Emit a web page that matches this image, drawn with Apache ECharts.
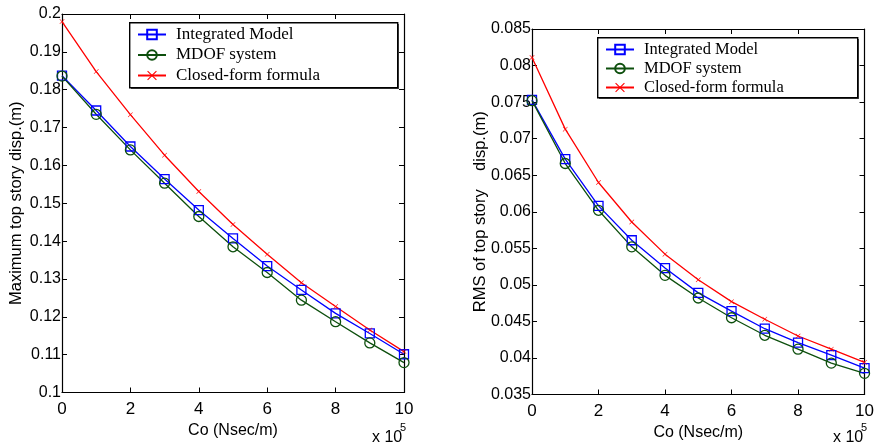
<!DOCTYPE html>
<html><head><meta charset="utf-8">
<script src="https://cdn.jsdelivr.net/npm/echarts@6/dist/echarts.min.js"></script>
<style>html,body{margin:0;padding:0;background:#fff}#c{width:877px;height:447px}</style>
</head><body><div id="c"></div>
<script>
var co = [0,1,2,3,4,5,6,7,8,9,10];
var seriesNames = ['Integrated Model','MDOF system','Closed-form formula'];
// Left: maximum top story displacement (m)
var maxIntegrated = [0.1837,0.1745,0.1650,0.1564,0.1482,0.1407,0.1334,0.1271,0.1209,0.1156,0.1101];
var maxMDOF       = [0.1836,0.1735,0.1641,0.1553,0.1465,0.1385,0.1317,0.1244,0.1187,0.1131,0.1079];
var maxClosed     = [0.1980,0.1848,0.1734,0.1627,0.1531,0.1444,0.1365,0.1290,0.1227,0.1165,0.1108];
// Right: RMS of top story displacement (m)
var rmsIntegrated = [0.0753,0.0672,0.0608,0.0561,0.0523,0.0489,0.0464,0.0440,0.0421,0.0404,0.0386];
var rmsMDOF       = [0.0752,0.0666,0.0602,0.0552,0.0513,0.0482,0.0455,0.0431,0.0412,0.0393,0.0379];
var rmsClosed     = [0.0811,0.0713,0.0640,0.0586,0.0542,0.0507,0.0477,0.0453,0.0430,0.0412,0.0394];
var xTicks = {min:0, max:10, interval:2};
var leftY = {min:0.1, max:0.2, interval:0.01};
var rightY = {min:0.035, max:0.085, interval:0.005};

var colors = ['#0000ff','#0d4f0d','#ff0000'];
var crossPath = 'path://M0,0.8 L0.8,0 L5,4.2 L9.2,0 L10,0.8 L5.8,5 L10,9.2 L9.2,10 L5,5.8 L0.8,10 L0,9.2 L4.2,5Z';
var symbols = ['rect','circle',crossPath];
var symSizes = [9,10,5];
var sans = 'Liberation Sans, Arial, sans-serif';
var serif = 'Liberation Serif, Times New Roman, serif';

function pairs(vals){ return co.map(function(x,i){return [x, vals[i]];}); }
function fmt(v){ return String(parseFloat(v.toFixed(4))); }

var chart = echarts.init(document.getElementById('c'));
function xAx(gi, name, pos){
  var main = pos === 'bottom';
  return {type:'value', gridIndex:gi, position:pos, min:xTicks.min, max:xTicks.max, interval:xTicks.interval,
    name: main ? name : '', nameLocation:'middle', nameGap:30, nameMoveOverlap:false,
    nameTextStyle:{fontFamily:sans, fontSize:16, color:'#000'},
    axisLine:{show:true, onZero:false, lineStyle:{color:'#000', width:1.2}},
    axisTick:{show:true, inside:true, length:5, lineStyle:{color:'#000'}},
    axisLabel:{show:main, fontFamily:sans, fontSize:17, color:'#000', margin:8},
    splitLine:{show:false}};
}
function yAx(gi, name, lim, pos, gap){
  var main = pos === 'left';
  return {type:'value', gridIndex:gi, position:pos, min:lim.min, max:lim.max, interval:lim.interval,
    name: main ? name : '', nameLocation:'middle', nameGap:gap, nameRotate:90, nameMoveOverlap:false,
    nameTextStyle:{fontFamily:sans, fontSize:16.5, color:'#000'},
    axisLine:{show:true, onZero:false, lineStyle:{color:'#000', width:1.2}},
    axisTick:{show:true, inside:true, length:5, lineStyle:{color:'#000'}},
    axisLabel:{show:main, fontFamily:sans, fontSize:16, color:'#000', margin:1, formatter:fmt},
    splitLine:{show:false}};
}
var data = [[maxIntegrated,maxMDOF,maxClosed],[rmsIntegrated,rmsMDOF,rmsClosed]];
var series = [];
for (var g=0; g<2; g++){
  for (var s=0; s<3; s++){
    series.push({type:'line', name:seriesNames[s], xAxisIndex:g*2, yAxisIndex:g*2,
      data:pairs(data[g][s]), smooth:false, symbol:symbols[s], symbolSize:symSizes[s],
      color:colors[s], lineStyle:{color:colors[s], width:1.3},
      itemStyle:{color: s===2 ? colors[s] : 'rgba(255,255,255,0)', borderColor:colors[s], borderWidth: s===2 ? 0 : 1.3},
      z: 2, animation:false});
  }
}
function legend(left, top, gap, fs){
  return {show:true, orient:'vertical', left:left, top:top, data:seriesNames, z:10,
    backgroundColor:'rgba(0,0,0,0)', borderWidth:0, padding:[4,0,3,8],
    itemWidth:28, itemHeight:12, itemGap:gap,
    textStyle:{fontFamily:serif, fontSize:fs, color:'#000', padding:[0,0,0,5]}};
}
chart.setOption({
  animation:false,
  backgroundColor:'#fff',
  grid:[{left:62, right:473, top:14, bottom:54.5},{left:532, right:11, top:29, bottom:52.5}],
  xAxis:[xAx(0,'Co (Nsec/m)','bottom'), xAx(0,'','top'), xAx(1,'Co (Nsec/m)','bottom'), xAx(1,'','top')],
  yAxis:[yAx(0,'Maximum top story disp.(m)',leftY,'left',37), yAx(0,'',leftY,'right',0),
         yAx(1,'RMS of top story    disp.(m)',rightY,'left',43), yAx(1,'',rightY,'right',0)],
  legend:[legend(129,22,3.5,17), legend(597,37,2,16.5)],
  series:series,
  graphic:[
    {type:'rect', left:131, top:24, z:8, shape:{width:268, height:65}, style:{fill:'#555', stroke:null}},
    {type:'rect', left:129, top:22, z:9, shape:{width:268, height:65}, style:{fill:'#fff', stroke:'#000', lineWidth:1.4}},
    {type:'rect', left:599, top:39, z:8, shape:{width:260, height:60}, style:{fill:'#555', stroke:null}},
    {type:'rect', left:597, top:37, z:9, shape:{width:260, height:60}, style:{fill:'#fff', stroke:'#000', lineWidth:1.4}},
    {type:'text', left:372, top:430, style:{text:'x 10', fontFamily:sans, fontSize:16, fill:'#000'}},
    {type:'text', left:400, top:422, style:{text:'5', fontFamily:sans, fontSize:11, fill:'#000'}},
    {type:'text', left:833, top:430, style:{text:'x 10', fontFamily:sans, fontSize:16, fill:'#000'}},
    {type:'text', left:861, top:422, style:{text:'5', fontFamily:sans, fontSize:11, fill:'#000'}}
  ]
});
</script></body></html>
